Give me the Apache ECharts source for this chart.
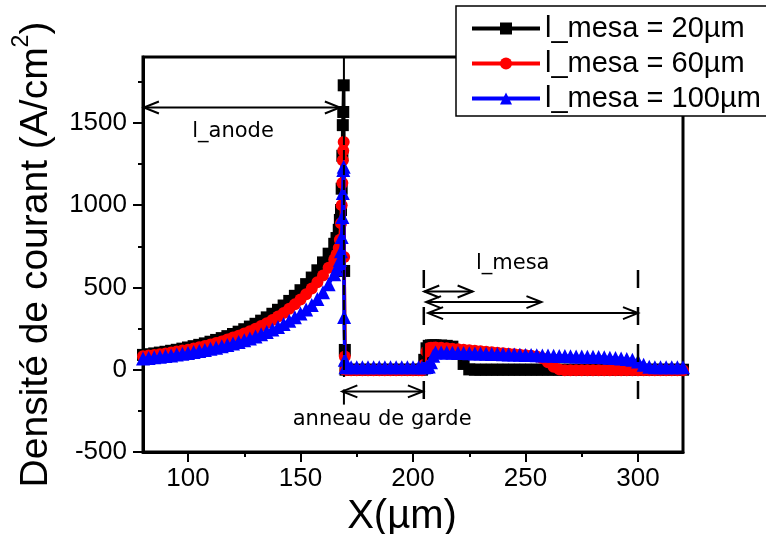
<!DOCTYPE html>
<html><head><meta charset="utf-8">
<script src="https://cdn.jsdelivr.net/npm/echarts@6/dist/echarts.min.js"></script>
<style>html,body{margin:0;padding:0;background:#fff}#c{width:766px;height:534px}</style>
</head><body><div id="c"></div><script>
// ---- data ----
const xPositions = [
  80,82.5,85,87.5,90,92.5,95,97.5,100,102.5,105,107.5,110,112.5,115,117.5,120,122.5,125,127.5,
  130,132.5,135,137.5,140,142.5,145,147.5,150,152.5,155,157.5,160,162.5,165,
  166,167,167.5,168,168.3,168.6,168.8,169,169.2,169.4,169.7,
  170,172.5,175,177.5,180,182.5,185,187.5,190,192.5,195,197.5,200,202.5,
  204,205,206,207,208,209,
  210,212.5,215,217.5,220,222.5,225,227.5,230,232.5,235,237.5,240,242.5,245,247.5,250,252.5,255,257.5,
  260,262.5,265,267.5,270,272.5,275,277.5,280,282.5,285,287.5,290,292.5,295,297.5,300,302.5,305,307.5,
  310,312.5,315,317.5,320
];
const black20 = [
  90,94,99,104,109,115,121,128,135,143,151,160,170,181,192,204,217,231,246,262,
  279,298,318,340,364,390,418,449,483,520,560,604,652,705,765,
  800,850,910,970,1100,1300,1486,1566,1728,600,120,
  0,0,0,0,0,0,0,0,0,0,0,0,0,0,
  0,60,130,145,148,148,
  148,147,145,140,100,35,2,0,0,0,0,0,0,0,0,0,0,0,0,0,
  0,0,0,0,0,0,0,0,0,0,0,0,0,0,0,0,0,0,0,0,
  0,0,0,0,0
];
const red60 = [
  82,86,90,94,99,104,110,116,122,129,136,144,153,162,172,183,195,207,220,234,
  249,265,283,302,323,345,370,397,426,458,493,531,573,619,670,
  700,740,790,890,1000,1134,1273,1330,1384,685,80,
  -3,-3,-3,-3,-3,-3,-3,-3,-3,-3,-3,-3,-3,-3,
  -3,30,110,130,133,134,
  135,133,130,127,124,121,118,115,112,109,106,103,100,97,94,91,88,85,81,70,
  45,18,2,-3,-3,-3,-3,-3,-3,-3,-3,-3,-3,-3,-3,-3,-3,-3,-3,-3,
  -3,-3,-3,-3,-3
];
const blue100 = [
  68,71,75,79,83,87,92,97,102,108,114,120,127,134,142,150,159,169,179,190,
  202,215,229,244,260,278,297,318,341,366,393,430,470,520,580,
  610,640,667,720,807,928,1073,1213,1233,321,60,
  15,15,15,15,15,15,15,15,15,15,15,15,15,15,
  15,15,16,20,45,85,
  104,105,104,103,102,101,100,99,98,97,96,95,94,93,92,91,90,89,88,87,
  86,85,84,83,82,81,80,79,78,77,75,73,71,68,65,61,50,30,18,15,
  15,15,15,15,15
];
const seriesNames = ['l_mesa = 20µm', 'l_mesa = 60µm', 'l_mesa = 100µm'];
const xTickValues = [100, 150, 200, 250, 300];
const xMinorTickValues = [125, 175, 225, 275];
const yTickValues = [-500, 0, 500, 1000, 1500];
const yMinorTickValues = [-250, 250, 750, 1250, 1750];
const xRange = [80, 320];
const yRange = [-500, 1900];
// annotation anchors, in data units
const anodeEdgeX = 169.3;
const mesaStartX = 204.8;
const mesaEndX = 300;
const lAnodeArrow = [80.4, 167.5, 1593];
const guardArrow = [168.6, 204.4, -132];
const mesaArrowStarts = [205, 205.8, 206.7];
const mesaArrowEnds = [226.5, 257.1, 300];
const mesaArrowYs = [475, 411, 344];
const annotationLabels = [
  {text: 'l_anode', x: 120, y: 1449},
  {text: 'anneau de garde', x: 186.3, y: -303},
  {text: 'l_mesa', x: 244.3, y: 645}
];

const FONT = '"Liberation Sans", Arial, sans-serif';
const ANN_FONT = '21px "DejaVu Sans", sans-serif';

function renderAnnotations(params, api) {
  const P = (x, y) => api.coord([x, y]);
  const children = [];
  const stroke = '#000';
  function seg(a, b, w, dash) {
    children.push({type: 'line', silent: true,
      shape: {x1: a[0], y1: a[1], x2: b[0], y2: b[1]},
      style: {stroke: stroke, fill: 'none', lineWidth: w, lineDash: dash || null}});
  }
  function head(tip, dir) {
    const L = 15, H = 6;
    children.push({type: 'polyline', silent: true,
      shape: {points: [[tip[0] - dir * L, tip[1] - H], [tip[0], tip[1]], [tip[0] - dir * L, tip[1] + H]]},
      style: {stroke: stroke, fill: 'none', lineWidth: 2}});
  }
  function dbl(x1, x2, y) {
    const a = P(x1, y), b = P(x2, y);
    seg(a, b, 2);
    head(a, -1); head(b, 1);
  }
  // anode edge line
  seg(P(anodeEdgeX, yRange[1]), P(anodeEdgeX, 1700), 2);
  seg(P(anodeEdgeX, 1700), P(anodeEdgeX, -45), 2, [10, 5]);
  seg(P(anodeEdgeX, -120), P(anodeEdgeX, -212), 2);
  // mesa lines
  seg(P(mesaStartX, 606), P(mesaStartX, -182), 2.5, [18, 19]);
  seg(P(mesaEndX, 606), P(mesaEndX, -182), 2.5, [18, 19]);
  // arrows
  dbl(lAnodeArrow[0], lAnodeArrow[1], lAnodeArrow[2]);
  dbl(guardArrow[0], guardArrow[1], guardArrow[2]);
  for (let i = 0; i < mesaArrowYs.length; i++) dbl(mesaArrowStarts[i], mesaArrowEnds[i], mesaArrowYs[i]);
  // labels
  annotationLabels.forEach(l => {
    const p = P(l.x, l.y);
    children.push({type: 'text', silent: true, x: p[0], y: p[1],
      style: {text: l.text, font: ANN_FONT, fill: '#000', align: 'center', verticalAlign: 'middle',
              textAlign: 'center', textVerticalAlign: 'middle'}});
  });
  return {type: 'group', children: children};
}

const chart = echarts.init(document.getElementById('c'), null, {renderer: 'canvas'});
const tickStyle = {color: '#000', width: 2};
const plain = v => String(v);
chart.setOption({
  animation: false,
  backgroundColor: '#fff',
  grid: {left: 143, right: 83, top: 57, bottom: 82, show: true, borderColor: '#000', borderWidth: 3,
         containLabel: false, outerBoundsMode: 'none'},
  legend: {
    data: seriesNames, orient: 'vertical', left: 456, top: 6,
    itemWidth: 68, itemHeight: 15, itemGap: 6, padding: [8, 20, 3, 14],
    borderColor: '#000', borderWidth: 1.5, backgroundColor: '#fff',
    textStyle: {fontSize: 29, fontFamily: FONT, color: '#000'},
    lineStyle: {width: 4}, selectedMode: false, z: 20
  },
  xAxis: [{
    type: 'value', min: xRange[0], max: xRange[1], position: 'bottom',
    axisLine: {show: true, onZero: false, lineStyle: {color: '#000', width: 3}},
    axisTick: {show: true, customValues: xTickValues, length: 10, lineStyle: tickStyle},
    axisLabel: {customValues: xTickValues, formatter: plain, fontSize: 26, fontFamily: FONT, color: '#000', margin: 14},
    splitLine: {show: false},
    name: 'X(µm)', nameLocation: 'middle', nameGap: 40,
    nameTextStyle: {fontSize: 40, fontFamily: FONT, color: '#000', padding: [0, 22, 0, 0]}
  }, {
    type: 'value', min: xRange[0], max: xRange[1], position: 'bottom',
    axisLine: {show: false, onZero: false},
    axisTick: {show: true, customValues: xMinorTickValues, length: 5, lineStyle: tickStyle},
    axisLabel: {show: false}, splitLine: {show: false}
  }],
  yAxis: [{
    type: 'value', min: yRange[0], max: yRange[1], position: 'left',
    axisLine: {show: true, onZero: false, lineStyle: {color: '#000', width: 3}},
    axisTick: {show: true, customValues: yTickValues, length: 10, lineStyle: tickStyle},
    axisLabel: {customValues: yTickValues, formatter: plain, fontSize: 26, fontFamily: FONT, color: '#000', margin: 16},
    splitLine: {show: false},
    name: '{a|Densité de courant (A/cm}{s|2}{a|)}', nameLocation: 'middle', nameGap: 80,
    nameTextStyle: {fontSize: 39, fontFamily: FONT, color: '#000',
      rich: {a: {fontSize: 39, lineHeight: 53, fontFamily: FONT, color: '#000'},
             s: {fontSize: 23, verticalAlign: 'top', fontFamily: FONT, color: '#000'}}}
  }, {
    type: 'value', min: yRange[0], max: yRange[1], position: 'left',
    axisLine: {show: false, onZero: false},
    axisTick: {show: true, customValues: yMinorTickValues, length: 5, lineStyle: tickStyle},
    axisLabel: {show: false}, splitLine: {show: false}
  }],
  series: [
    {name: seriesNames[0], type: 'line', xAxisIndex: 0, yAxisIndex: 0,
     data: xPositions.map((x, i) => [x, black20[i]]),
     symbol: 'rect', symbolSize: 12, showAllSymbol: true,
     lineStyle: {width: 3.5, color: '#000'}, itemStyle: {color: '#000'}, z: 2},
    {name: seriesNames[1], type: 'line', xAxisIndex: 0, yAxisIndex: 0,
     data: xPositions.map((x, i) => [x, red60[i]]),
     symbol: 'circle', symbolSize: 12, showAllSymbol: true,
     lineStyle: {width: 3.5, color: '#ff0000'}, itemStyle: {color: '#ff0000'}, z: 3},
    {name: seriesNames[2], type: 'line', xAxisIndex: 0, yAxisIndex: 0,
     data: xPositions.map((x, i) => [x, blue100[i]]),
     symbol: 'triangle', symbolSize: 14, showAllSymbol: true,
     lineStyle: {width: 3.5, color: '#0000ff'}, itemStyle: {color: '#0000ff'}, z: 4},
    {type: 'custom', xAxisIndex: 0, yAxisIndex: 0, data: [[xRange[0], yRange[0]]],
     renderItem: renderAnnotations, clip: false, z: 10, silent: true}
  ]
});
</script></body></html>
